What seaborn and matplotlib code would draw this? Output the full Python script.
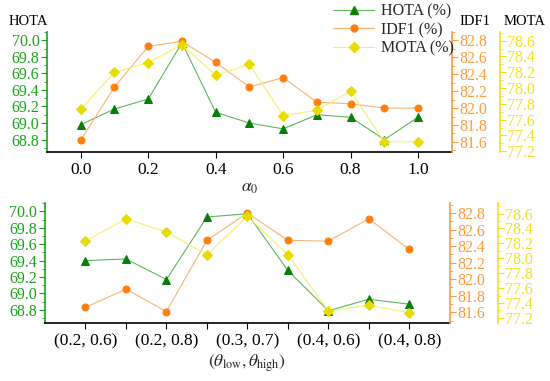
import numpy as np
import matplotlib
matplotlib.use('Agg')
import matplotlib.pyplot as plt
from matplotlib.ticker import FormatStrFormatter, MultipleLocator
from matplotlib.lines import Line2D
import seaborn as sns

# ── Data ──────────────────────────────────────────────────────────────────
alpha0 = [0.0, 0.1, 0.2, 0.3, 0.4, 0.5, 0.6, 0.7, 0.8, 0.9, 1.0]
hota_a = [68.98, 69.17, 69.29, 69.97, 69.13, 69.00, 68.93, 69.10, 69.07, 68.80, 69.07]
idf1_a = [81.62, 82.25, 82.73, 82.79, 82.54, 82.25, 82.36, 82.07, 82.05, 82.00, 82.00]
mota_a = [77.73, 78.20, 78.32, 78.55, 78.16, 78.30, 77.65, 77.72, 77.96, 77.32, 77.32]

theta_labels = ["(0.2, 0.6)", "", "(0.2, 0.8)", "", "(0.3, 0.7)", "", "(0.4, 0.6)", "", "(0.4, 0.8)"]
hota_t = [69.40, 69.42, 69.17, 69.93, 69.97, 69.28, 68.79, 68.93, 68.87]
idf1_t = [81.66, 81.88, 81.61, 82.47, 82.80, 82.47, 82.46, 82.73, 82.36]
mota_t = [78.23, 78.53, 78.35, 78.05, 78.56, 78.05, 77.29, 77.37, 77.27]

# ── Style ─────────────────────────────────────────────────────────────────
sns.set_style("ticks")
plt.rcParams['font.family'] = ['Liberation Serif', 'DejaVu Serif']
plt.rcParams['mathtext.fontset'] = 'stix'

G_MK, G_LN, G_TX = "#0a7d0a", "#5cb85c", "#1aa31a"
O_MK, O_LN, O_TX = "#ff7f0e", "#ffb070", "#ff9a3c"
Y_MK, Y_LN, Y_TX = "#e6dc00", "#f5f070", "#f0e020"
FS_Y = 11.5
FS_X = 12.5
LW = 0.8

fig = plt.figure(figsize=(5.5, 3.81), dpi=100)
ax_top = fig.add_axes([0.0855, 0.601, 0.736, 0.315])
ax_bot = fig.add_axes([0.0818, 0.152, 0.736, 0.315])


def style_axis(ax, color, side, offset=0):
    for s in ["top", "right", "left"]:
        ax.spines[s].set_visible(False)
    ax.spines[side].set_visible(True)
    ax.spines[side].set_color(color)
    ax.spines[side].set_linewidth(1.2)
    if offset:
        ax.spines[side].set_position(("outward", offset))
    ax.yaxis.set_ticks_position(side)
    ax.yaxis.set_label_position(side)
    ax.tick_params(axis='y', which='both', colors=color, labelsize=FS_Y, direction='out', pad=1.5)
    ax.tick_params(axis='y', which='major', length=4)
    ax.tick_params(axis='y', which='minor', length=2.5)
    ax.yaxis.set_major_formatter(FormatStrFormatter('%.1f'))
    ax.yaxis.set_major_locator(MultipleLocator(0.2))
    ax.yaxis.set_minor_locator(MultipleLocator(0.1))


def draw_panel(ax, x, hota, idf1, mota, lims):
    sns.lineplot(x=x, y=hota, ax=ax, color=G_LN, lw=LW, marker='^', ms=6,
                 markerfacecolor=G_MK, markeredgecolor=G_MK, zorder=3)
    ax2 = ax.twinx()
    ax3 = ax.twinx()
    sns.lineplot(x=x, y=idf1, ax=ax2, color=O_LN, lw=LW, marker='o', ms=5,
                 markerfacecolor=O_MK, markeredgecolor=O_MK)
    sns.lineplot(x=x, y=mota, ax=ax3, color=Y_LN, lw=LW, marker='D', ms=5,
                 markerfacecolor=Y_MK, markeredgecolor=Y_MK)
    ax.set_ylim(*lims[0]); ax2.set_ylim(*lims[1]); ax3.set_ylim(*lims[2])
    style_axis(ax, G_TX, "left")
    style_axis(ax2, O_TX, "right")
    style_axis(ax3, Y_TX, "right", offset=34.5)
    for a in (ax2, ax3):
        a.spines["bottom"].set_visible(False)
        a.set_ylabel("")
    ax.set_ylabel("")
    ax.spines["bottom"].set_color("black")
    ax.spines["bottom"].set_linewidth(1.2)
    ax.tick_params(axis='x', which='both', colors='black', labelsize=FS_X, direction='out')
    ax.tick_params(axis='x', which='major', length=4)
    return ax2, ax3


ax2_t, ax3_t = draw_panel(ax_top, alpha0, hota_a, idf1_a, mota_a,
                          [(68.65, 70.1), (81.48, 82.9), (77.19, 78.71)])
ax_top.set_xlim(-0.1, 1.1)
ax_top.set_xticks([0.0, 0.2, 0.4, 0.6, 0.8, 1.0])
ax_top.xaxis.set_major_formatter(FormatStrFormatter('%.1f'))
ax_top.set_xlabel(r'$\alpha_0$', fontsize=FS_X, labelpad=1)

xi = list(range(len(theta_labels)))
ax2_b, ax3_b = draw_panel(ax_bot, xi, hota_t, idf1_t, mota_t,
                          [(68.64, 70.1), (81.47, 82.92), (77.13, 78.74)])
ax_bot.set_xlim(-1, 9)
ax_bot.set_xticks(xi)
ax_bot.set_xticklabels(theta_labels)
ax_bot.set_xlabel(r'$(\theta_{\mathrm{low}},\theta_{\mathrm{high}})$', fontsize=FS_X, labelpad=2)

# axis titles on top panel
fig.text(0.015, 0.935, "HOTA", fontsize=10.5, color="black")
fig.text(0.835, 0.935, "IDF1", fontsize=10.5, color="black")
fig.text(0.915, 0.935, "MOTA", fontsize=10.5, color="black")

handles = [
    Line2D([], [], color=G_LN, lw=LW, marker='^', ms=6, markerfacecolor=G_MK, markeredgecolor=G_MK),
    Line2D([], [], color=O_LN, lw=LW, marker='o', ms=5, markerfacecolor=O_MK, markeredgecolor=O_MK),
    Line2D([], [], color=Y_LN, lw=LW, marker='D', ms=5, markerfacecolor=Y_MK, markeredgecolor=Y_MK),
]
fig.legend(handles, ["HOTA (%)", "IDF1 (%)", "MOTA (%)"], loc='upper left',
           bbox_to_anchor=(0.585, 1.02), frameon=False, fontsize=11.5,
           handlelength=2.6, labelspacing=0.15, handletextpad=0.4, borderpad=0.2)

plt.savefig("out.png", dpi=100)
plt.close()
